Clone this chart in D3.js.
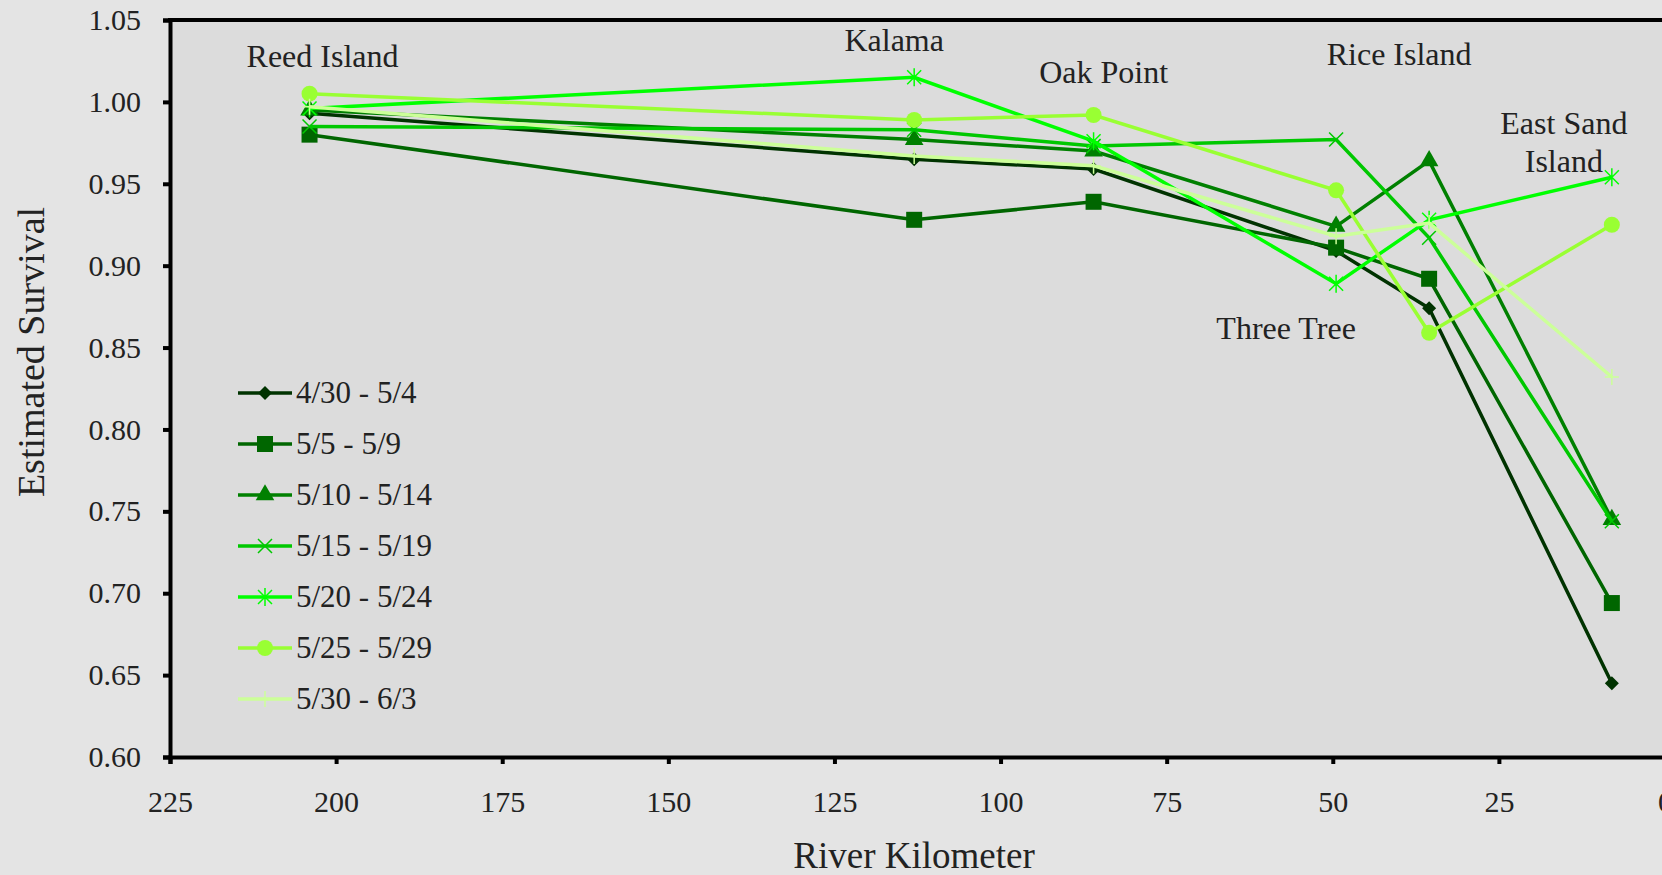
<!DOCTYPE html>
<html>
<head>
<meta charset="UTF-8">
<title>Estimated Survival</title>
<script src="https://d3js.org/d3.v7.min.js"></script>
<style>
    html, body { margin: 0; padding: 0; background: #e4e4e4; overflow: hidden; }
    svg { display: block; font-family: "Liberation Serif", "DejaVu Serif", serif; }
</style>
</head>
<body>
<svg id="chart" width="1662" height="875"></svg>
<script>
    // sites along the river, river kilometer
    const sites = ["Reed Island", "Kalama", "Oak Point", "Three Tree", "Rice Island", "East Sand Island"];
    const rkm = [204, 113, 86, 49.5, 35.5, 8];

    // release groups
    const groups = ["4/30 - 5/4", "5/5 - 5/9", "5/10 - 5/14", "5/15 - 5/19", "5/20 - 5/24", "5/25 - 5/29", "5/30 - 6/3"];
    const s1 = [0.993, 0.965, 0.959, 0.909, 0.874, 0.645];
    const s2 = [0.980, 0.928, 0.939, 0.911, 0.892, 0.694];
    const s3 = [0.995, 0.977, 0.970, 0.924, 0.964, 0.745];
    const s4 = [0.985, 0.983, 0.973, 0.977, 0.917, 0.744];
    const s5 = [0.996, 1.015, 0.976, 0.889, 0.928, 0.954];
    const s6 = [1.005, 0.989, 0.992, 0.946, 0.859, 0.925];
    const s7 = [0.997, 0.967, 0.961, 0.918, 0.926, 0.832];
    const seriesValues = [s1, s2, s3, s4, s5, s6, s7];

    const colors = ["#003300", "#006600", "#008000", "#00c800", "#00ff00", "#99ff33", "#ccff99"];
    const markers = ["diamond", "square", "triangle", "x", "star", "circle", "plus"];

    const xTicks = [225, 200, 175, 150, 125, 100, 75, 50, 25, 0];
    const yTicks = [0.60, 0.65, 0.70, 0.75, 0.80, 0.85, 0.90, 0.95, 1.00, 1.05];

    const svg = d3.select("#chart");

    const x = d3.scaleLinear().domain([225, 0]).range([170, 1665]);
    const y = d3.scaleLinear().domain([0.60, 1.05]).range([757, 20]);

    // plot area
    svg.append("rect")
        .attr("x", x(225)).attr("y", y(1.05))
        .attr("width", x(0) - x(225) + 10).attr("height", y(0.60) - y(1.05))
        .attr("fill", "#dcdcdc");

    // y axis
    const yAxis = svg.append("g")
        .attr("transform", `translate(${x(225)},0)`)
        .call(d3.axisLeft(y).tickValues(yTicks).tickFormat(d3.format(".2f")).tickSize(7).tickPadding(22));
    yAxis.attr("font-family", null);
    yAxis.select(".domain").attr("stroke", "#000").attr("stroke-width", 4);
    yAxis.selectAll(".tick line").attr("stroke", "#000").attr("stroke-width", 4);
    yAxis.selectAll(".tick text").attr("font-size", 30).attr("fill", "#222");

    // x axis
    const xAxis = svg.append("g")
        .attr("transform", `translate(0,${y(0.60)})`)
        .call(d3.axisBottom(x).tickValues(xTicks).tickFormat(d3.format("d")).tickSize(7).tickPadding(27));
    xAxis.attr("font-family", null);
    xAxis.select(".domain").attr("stroke", "#000").attr("stroke-width", 4);
    xAxis.selectAll(".tick line").attr("stroke", "#000").attr("stroke-width", 4);
    xAxis.selectAll(".tick text").attr("font-size", 30).attr("fill", "#222");

    // top border
    svg.append("line")
        .attr("x1", x(225) - 2).attr("x2", 1662)
        .attr("y1", y(1.05)).attr("y2", y(1.05))
        .attr("stroke", "#000").attr("stroke-width", 4);

    // axis titles
    svg.append("text")
        .attr("x", 914).attr("y", 868)
        .attr("text-anchor", "middle")
        .attr("font-size", 37).attr("fill", "#222")
        .text("River Kilometer");
    svg.append("text")
        .attr("transform", "translate(44,352) rotate(-90)")
        .attr("text-anchor", "middle")
        .attr("font-size", 38).attr("fill", "#222")
        .text("Estimated Survival");

    // marker drawing
    function drawMarker(g, type, color) {
        if (type === "diamond") {
            g.append("path").attr("d", "M0,-7L7,0L0,7L-7,0Z").attr("fill", color);
        } else if (type === "square") {
            g.append("rect").attr("x", -8).attr("y", -8).attr("width", 16).attr("height", 16).attr("fill", color);
        } else if (type === "triangle") {
            g.append("path").attr("d", d3.symbol(d3.symbolTriangle, 150)).attr("fill", color);
        } else if (type === "x") {
            g.append("path").attr("d", "M-7,-7L7,7M-7,7L7,-7").attr("stroke", color).attr("stroke-width", 1.5);
        } else if (type === "star") {
            g.append("path").attr("d", "M-7,-7L7,7M-7,7L7,-7M0,-9L0,9").attr("stroke", color).attr("stroke-width", 1.5);
        } else if (type === "circle") {
            g.append("circle").attr("r", 8).attr("fill", color);
        } else if (type === "plus") {
            g.append("path").attr("d", "M-7,0L7,0M0,-8L0,8").attr("stroke", color).attr("stroke-width", 1.5);
        }
    }

    const line = d3.line()
        .x((d, i) => x(rkm[i]))
        .y(d => y(d));

    const plot = svg.append("g");
    seriesValues.forEach((vals, k) => {
        plot.append("path")
            .datum(vals)
            .attr("fill", "none")
            .attr("stroke", colors[k])
            .attr("stroke-width", 3.5)
            .attr("d", line);
        vals.forEach((v, i) => {
            const g = plot.append("g").attr("transform", `translate(${x(rkm[i])},${y(v)})`);
            drawMarker(g, markers[k], colors[k]);
        });
    });

    // site labels
    const labelDx = [13, -20, 10, -50, -30, -48];
    const labelY = [67, 51, 83, 339, 65, 134];
    sites.forEach((s, i) => {
        const t = svg.append("text")
            .attr("x", x(rkm[i]) + labelDx[i]).attr("y", labelY[i])
            .attr("text-anchor", "middle")
            .attr("font-size", 32).attr("fill", "#222");
        if (s === "East Sand Island") {
            t.append("tspan").attr("x", x(rkm[i]) + labelDx[i]).text("East Sand");
            t.append("tspan").attr("x", x(rkm[i]) + labelDx[i]).attr("dy", 38).text("Island");
        } else {
            t.text(s);
        }
    });

    // legend
    const legend = svg.append("g").attr("transform", "translate(238,393)");
    groups.forEach((name, k) => {
        const row = legend.append("g").attr("transform", `translate(0,${k * 51})`);
        row.append("line")
            .attr("x1", 0).attr("x2", 54)
            .attr("stroke", colors[k]).attr("stroke-width", 3.5);
        drawMarker(row.append("g").attr("transform", "translate(27,0)"), markers[k], colors[k]);
        row.append("text")
            .attr("x", 58).attr("y", 10)
            .attr("font-size", 31).attr("fill", "#222")
            .text(name);
    });
</script>
</body>
</html>
